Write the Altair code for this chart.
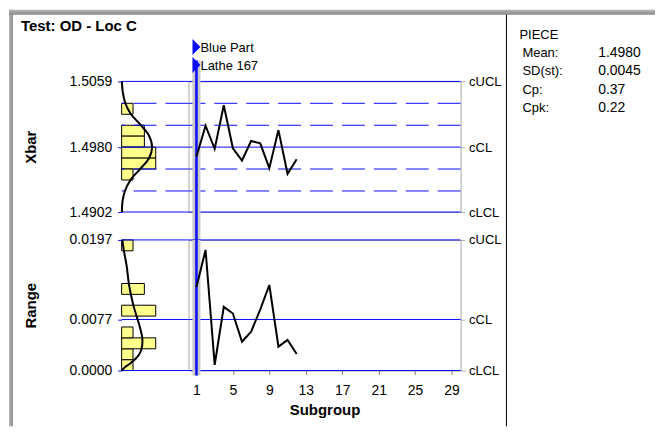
import altair as alt
import pandas as pd

# ---------------- data ----------------
subgroup = list(range(1, 13))
xbar_values = [1.49687, 1.50057, 1.49779, 1.50304, 1.49786, 1.49639,
               1.49874, 1.49845, 1.49547, 1.50005, 1.49480, 1.49654]
range_values = [0.01259, 0.01820, 0.00085, 0.00960, 0.00860, 0.00435,
                0.00585, 0.00920, 0.01290, 0.00360, 0.00460, 0.00250]

xbar_limits = [1.5059, 1.4980, 1.4902]          # UCL, CL, LCL
xbar_zone_lines = [1.50327, 1.50063, 1.49537, 1.49273]
range_limits = [0.0197, 0.0077, 0.0]

xbar_bin_lo = [1.50195, 1.50063, 1.49932, 1.49800, 1.49668, 1.49537, 1.49405]
xbar_bin_hi = [1.50327, 1.50195, 1.50063, 1.49932, 1.49800, 1.49668, 1.49537]
xbar_bin_count = [1, 0, 2, 2, 3, 3, 1]

range_bin_lo = [0.0, 0.00164, 0.00328, 0.00493, 0.00657, 0.00821,
                0.00985, 0.01149, 0.01313, 0.01478, 0.01642, 0.01806]
range_bin_hi = [0.00164, 0.00328, 0.00493, 0.00657, 0.00821, 0.00985,
                0.01149, 0.01313, 0.01478, 0.01642, 0.01806, 0.0197]
range_bin_count = [1, 1, 3, 1, 0, 3, 0, 2, 0, 0, 0, 1]

xbar_curve_value = [1.5059, 1.5046, 1.5033, 1.5020, 1.5007, 1.4994, 1.4980,
                    1.4967, 1.4954, 1.4941, 1.4927, 1.4915, 1.4902]
xbar_curve_count = [0.02, 0.10, 0.32, 0.80, 1.65, 2.40, 2.68,
                    2.42, 1.65, 0.80, 0.28, 0.08, 0.02]

range_curve_value = [0.0197, 0.01805, 0.01579, 0.01302, 0.01143, 0.00986, 0.00817,
                     0.00651, 0.00486, 0.00325, 0.00226, 0.00125, 0.0005, 0.0]
range_curve_count = [0.06, 0.20, 0.44, 0.64, 0.82, 1.03, 1.32,
                     1.61, 1.82, 1.75, 1.47, 0.88, 0.29, 0.0]

event_subgroup = [1, 1]
event_label = ["Blue Part", "Lathe 167"]
event_lane = [0, 1]

stat_row = [0, 1, 2, 3, 4]
stat_label = ["PIECE", "Mean:", "SD(st):", "Cp:", "Cpk:"]
stat_value = ["", "1.4980", "0.0045", "0.37", "0.22"]

subgroup_ticks = [1, 5, 9, 13, 17, 21, 25, 29]
title_text = ["Test: OD - Loc C"]

# ---------------- style ----------------
FONT = "Liberation Sans"
BLUE = "#0a0aff"
YELLOW = "#ffff8c"
GRAY = "#a8a8a8"
HW, LW, H, SW = 67, 273, 131, 195

xs = alt.Scale(domain=[0.12, 30], nice=False, zero=False)
hs = alt.Scale(domain=[0, 5.88], nice=False, zero=False)
ys_x = alt.Scale(domain=[1.4902, 1.5059], nice=False, zero=False)
ys_r = alt.Scale(domain=[0.0, 0.0197], nice=False, zero=False)

TRI = "M-0.5,-1L0.5,0L-0.5,1Z"


def left_axis(vals, title):
    return alt.Axis(values=vals, format=".4f", title=title, titleFontWeight="bold",
                    titleFontSize=15, tickColor=BLUE, tickSize=4, domain=False,
                    labelPadding=6, titlePadding=31, grid=False, labelFontSize=14,
                    labelOverlap=False, tickCount=10)


def right_axis(vals, expr):
    return alt.Axis(orient="right", values=vals, labelExpr=expr, title=None,
                    tickColor=GRAY, tickSize=4, domain=False, labelPadding=4,
                    grid=False, labelFontSize=13, labelOverlap=False, tickCount=10)


def hist_panel(lo, hi, cnt, cv, cc, limits, zones, ysc, title):
    bins = pd.DataFrame({"lo": lo, "hi": hi, "n": cnt, "z": [0] * len(cnt)})
    lim = alt.Chart(pd.DataFrame({"v": limits})).mark_rule(color=BLUE, strokeWidth=1).encode(
        y=alt.Y("v:Q", scale=ysc, axis=left_axis(limits, title)))
    bars = alt.Chart(bins).transform_filter("datum.n > 0").mark_rect(
        fill=YELLOW, stroke="black", strokeWidth=1).encode(
        x=alt.X("z:Q", scale=hs, axis=None), x2="n:Q",
        y=alt.Y("lo:Q", scale=ysc), y2="hi:Q")
    layers = [bars, lim]
    if zones:
        layers.append(alt.Chart(pd.DataFrame({"v": zones})).mark_rule(
            color=BLUE, strokeWidth=1, strokeDash=[23, 9]).encode(
            y=alt.Y("v:Q", scale=ysc)))
    curve = alt.Chart(pd.DataFrame({"v": cv, "n": cc, "i": list(range(len(cv)))})).mark_line(
        color="black", strokeWidth=2, interpolate="catmull-rom").encode(
        x=alt.X("n:Q", scale=hs, axis=None), y=alt.Y("v:Q", scale=ysc),
        order="i:Q")
    layers.append(curve)
    return layers


def line_layers(values, limits, zones, ysc, expr, xaxis, band_top, band_bottom):
    lim = alt.Chart(pd.DataFrame({"v": limits})).mark_rule(color=BLUE, strokeWidth=1).encode(
        y=alt.Y("v:Q", scale=ysc, axis=right_axis(limits, expr)))
    layers = [lim]
    if zones:
        layers.append(alt.Chart(pd.DataFrame({"v": zones})).mark_rule(
            color=BLUE, strokeWidth=1, strokeDash=[23, 9]).encode(
            y=alt.Y("v:Q", scale=ysc)))
    ev = pd.DataFrame({"s": event_subgroup[:1]})
    xenc = alt.X("s:Q", scale=xs) if xaxis is not None else alt.X("s:Q", scale=xs, axis=None)
    layers.append(alt.Chart(ev).mark_rule(color="#c8c8c8", strokeWidth=8).encode(
        x=xenc, y=alt.value(band_top), y2=alt.value(band_bottom)))
    layers.append(alt.Chart(ev).mark_rule(color=BLUE, strokeWidth=2.5).encode(
        x=xenc, y=alt.value(band_top), y2=alt.value(band_bottom)))
    data = pd.DataFrame({"s": subgroup, "v": values})
    xdata = alt.X("s:Q", scale=xs, axis=xaxis) if xaxis is not None else alt.X("s:Q", scale=xs, axis=None)
    layers.append(alt.Chart(data).mark_line(color="black", strokeWidth=2).encode(
        x=xdata, y=alt.Y("v:Q", scale=ysc)))
    return layers


# ---- Xbar histogram panel (+ title text + window shadow) ----
xh_layers = hist_panel(xbar_bin_lo, xbar_bin_hi, xbar_bin_count, xbar_curve_value,
                       xbar_curve_count, xbar_limits, xbar_zone_lines, ys_x, "Xbar")
one = pd.DataFrame({"t": title_text})
shadow_left = alt.Chart(one).mark_rect(
    color=alt.LinearGradient(gradient="linear", x1=0, x2=1, y1=0, y2=0,
                             stops=[alt.GradientStop(color="#b8b8b8", offset=0),
                                    alt.GradientStop(color="#8a8a8a", offset=1)])).encode(
    x=alt.value(-113), x2=alt.value(-109), y=alt.value(-72), y2=alt.value(346))
shadow_top = alt.Chart(one).mark_rect(
    color=alt.LinearGradient(gradient="linear", x1=0, x2=0, y1=0, y2=1,
                             stops=[alt.GradientStop(color="#b8b8b8", offset=0),
                                    alt.GradientStop(color="#8a8a8a", offset=1)])).encode(
    x=alt.value(-113), x2=alt.value(535), y=alt.value(-72), y2=alt.value(-67))
title_mark = alt.Chart(one).mark_text(align="left", baseline="alphabetic", font=FONT,
                                      fontSize=15, fontWeight="bold", color="black").encode(
    x=alt.value(-101), y=alt.value(-51), text="t:N")
xhist = alt.layer(*xh_layers, shadow_left, shadow_top, title_mark).properties(width=HW, height=H)

# ---- Xbar line panel with events ----
xl_main = alt.layer(*line_layers(
    xbar_values, xbar_limits, xbar_zone_lines, ys_x,
    "datum.value > 1.5 ? 'cUCL' : (datum.value > 1.495 ? 'cCL' : 'cLCL')",
    None, -21, H + 28))
events = pd.DataFrame({"s": event_subgroup, "label": event_label, "lane": event_lane})
lane_scale = alt.Scale(domain=[0, 1], range=[-34.5, -16.5])
ev_tri = alt.Chart(events).mark_point(shape=TRI, size=256, filled=True, color=BLUE,
                                      opacity=1).encode(
    x=alt.X("s:Q", scale=xs, axis=None), y=alt.Y("lane:Q", scale=lane_scale, axis=None))
ev_txt = alt.Chart(events).mark_text(align="left", baseline="middle", dx=4, dy=1,
                                     font=FONT, fontSize=13, color="black").encode(
    x=alt.X("s:Q", scale=xs, axis=None), y=alt.Y("lane:Q", scale=lane_scale, axis=None),
    text="label:N")
xline = alt.layer(xl_main, ev_tri, ev_txt).resolve_scale(y="independent").properties(
    width=LW, height=H, view=alt.ViewBackground(stroke=GRAY, strokeWidth=1))

# ---- Stats panel ----
stats = pd.DataFrame({"row": stat_row, "label": stat_label, "value": stat_value})
row_scale = alt.Scale(domain=[0, 4], range=[-47, 27])
divider = alt.Chart(one).mark_rule(color="black", strokeWidth=1).encode(
    x=alt.value(46), y=alt.value(-67), y2=alt.value(346))
st_head = alt.Chart(stats).transform_filter("datum.row == 0").mark_text(
    align="left", baseline="middle", font=FONT, fontSize=13, color="black").encode(
    x=alt.value(59), y=alt.Y("row:Q", scale=row_scale, axis=None), text="label:N")
st_names = alt.Chart(stats).transform_filter("datum.row > 0").mark_text(
    align="left", baseline="middle", font=FONT, fontSize=13, color="black").encode(
    x=alt.value(62), y=alt.Y("row:Q", scale=row_scale, axis=None), text="label:N")
st_vals = alt.Chart(stats).transform_filter("datum.row > 0").mark_text(
    align="left", baseline="middle", font=FONT, fontSize=14, color="black").encode(
    x=alt.value(138), y=alt.Y("row:Q", scale=row_scale, axis=None), text="value:N")
stats_panel = alt.layer(divider, st_head, st_names, st_vals).properties(width=SW, height=H)

# ---- Range panels ----
rhist = alt.layer(*hist_panel(range_bin_lo, range_bin_hi, range_bin_count, range_curve_value,
                              range_curve_count, range_limits, None, ys_r, "Range")
                  ).properties(width=HW, height=H)
x_axis = alt.Axis(values=subgroup_ticks, format="d", title="Subgroup", titleFontWeight="bold",
                  titleFontSize=15, tickSize=4, tickColor="#808080", domain=False,
                  labelPadding=9, titlePadding=5, labelFlush=False, grid=False,
                  labelFontSize=14, labelOverlap=False, tickCount=20)
rline = alt.layer(*line_layers(
    range_values, range_limits, None, ys_r,
    "datum.value > 0.015 ? 'cUCL' : (datum.value > 0.005 ? 'cCL' : 'cLCL')",
    x_axis, 0, H + 5)).properties(width=LW, height=H,
                                 view=alt.ViewBackground(stroke=GRAY, strokeWidth=1))

chart = alt.concat(xhist, xline, stats_panel, rhist, rline, columns=3,
                   spacing={"row": 28, "column": 0}, bounds="flush").properties(
    padding=0, background="white"
).configure_view(stroke="transparent").configure_axis(
    labelFont=FONT, titleFont=FONT, labelColor="black", titleColor="black", grid=False
).configure_text(font=FONT)

chart.save("out.html", embed_options={"renderer": "svg", "actions": False})
